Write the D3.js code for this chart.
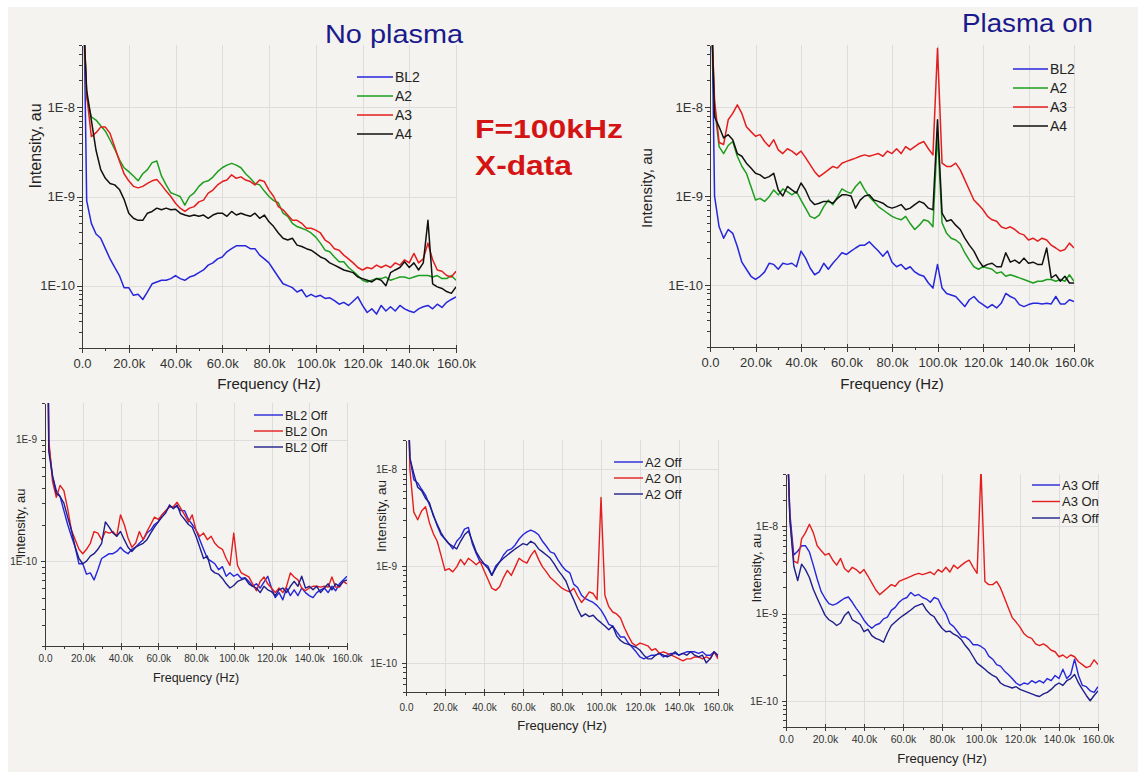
<!DOCTYPE html>
<meta charset="utf-8">
<style>
    body { margin: 0; background: #fff; }
    svg { display: block; font-family: "Liberation Sans", Arial, sans-serif; }
    .axis path, .axis line { fill: none; stroke: #3a3a3a; shape-rendering: crispEdges; }
    .axis text { fill: #333; }
    .grid line { stroke: #dddddd; shape-rendering: crispEdges; }
    .grid path { display: none; }
    .line { fill: none; stroke-linejoin: round; }
</style>
<svg class="chart"></svg>
<script src="https://d3js.org/d3.v7.min.js"></script>
<script>

    // frequency in kHz
    var freq = [1,
        2, 4, 6, 8, 10, 12, 14, 16, 18, 20,
        22, 24, 26, 28, 30, 32, 34, 36, 38, 40,
        42, 44, 46, 48, 50, 52, 54, 56, 58, 60,
        62, 64, 66, 68, 70, 72, 74, 76, 78, 80,
        82, 84, 86, 88, 90, 92, 94, 96, 98, 100,
        102, 104, 106, 108, 110, 112, 114, 116, 118, 120,
        122, 124, 126, 128, 130, 132, 134, 136, 138, 140,
        142, 144, 146, 148, 150, 152, 154, 156, 158, 160];

    // intensities in units of 1E-10 au
    var bl2Off = [600,
        9, 5, 3.8, 3.4, 2.6, 2.0, 1.6, 1.3, 0.95, 0.95,
        0.78, 0.8, 0.7, 0.85, 1.05, 1.1, 1.15, 1.15, 1.2, 1.3,
        1.2, 1.15, 1.25, 1.3, 1.4, 1.5, 1.7, 1.8, 2.0, 2.1,
        2.4, 2.6, 2.8, 2.8, 2.8, 2.6, 2.6, 2.2, 2.0, 1.8,
        1.5, 1.25, 1.05, 1.0, 0.95, 0.85, 0.9, 0.75, 0.8, 0.75,
        0.78, 0.72, 0.73, 0.68, 0.62, 0.65, 0.6, 0.67, 0.75, 0.6,
        0.5, 0.55, 0.48, 0.6, 0.52, 0.58, 0.52, 0.6, 0.55, 0.52,
        0.5, 0.55, 0.58, 0.6, 0.55, 0.62, 0.57, 0.65, 0.7, 0.75];

    var bl2On = [600,
        10, 4.5, 3.35, 4.2, 3.8, 2.7, 1.8, 1.5, 1.25, 1.15,
        1.25, 1.4, 1.75, 1.7, 1.5, 1.75, 1.7, 1.75, 1.6, 2.4,
        2.0, 1.55, 1.3, 1.4, 1.75, 1.5, 1.75, 2.0, 2.3, 2.2,
        2.4, 2.6, 2.8, 2.8, 3.05, 2.7, 2.4, 2.1, 2.4, 1.8,
        1.6, 1.7, 1.5, 1.6, 1.4, 1.3, 1.25, 1.05, 0.92, 1.7,
        0.92, 0.8, 0.77, 0.74, 0.65, 0.57, 0.68, 0.74, 0.65, 0.6,
        0.55, 0.6, 0.55, 0.62, 0.8, 0.74, 0.7, 0.6, 0.57, 0.6,
        0.62, 0.62, 0.61, 0.62, 0.61, 0.74, 0.61, 0.61, 0.68, 0.65];

    var bl2Off2 = [600,
        8, 5, 3.6, 3.4, 3.0, 2.3, 1.8, 1.3, 1.05, 0.95,
        1.0, 1.1, 1.15, 1.25, 1.4, 2.1, 1.9, 1.7, 1.6, 1.75,
        1.5, 1.3, 1.2, 1.3, 1.35, 1.4, 1.5, 1.7, 1.9, 2.1,
        2.3, 2.5, 2.9, 2.7, 2.9, 2.4, 2.2, 2.0, 1.9, 1.6,
        1.3, 1.05, 1.1, 0.85, 0.8, 0.78, 0.72, 0.65, 0.6, 0.63,
        0.68, 0.7, 0.72, 0.65, 0.62, 0.6, 0.55, 0.62, 0.58, 0.56,
        0.52, 0.58, 0.6, 0.55, 0.62, 0.68, 0.62, 0.75, 0.6, 0.62,
        0.58, 0.62, 0.55, 0.6, 0.65, 0.58, 0.65, 0.62, 0.68, 0.7];

    var a2Off = [600,
        130, 78, 72, 62, 54, 43, 34, 26, 21, 19,
        17, 15, 18, 20, 24, 25, 17, 13.5, 11, 10.5,
        10, 8, 10, 11, 13, 14.5, 15, 16.5, 19, 21,
        22.5, 23.5, 22.5, 21, 18, 16, 14, 13.5, 11.5, 10,
        9, 8.5, 6.5, 6, 5, 4.6, 4.4, 4.2, 3.9, 3.5,
        3.0, 2.5, 2.4, 2.1, 1.85, 1.85, 1.6, 1.45, 1.3, 1.15,
        1.1, 1.15, 1.2, 1.2, 1.25, 1.15, 1.2, 1.25, 1.25, 1.2,
        1.25, 1.3, 1.3, 1.3, 1.25, 1.3, 1.2, 1.2, 1.3, 1.15];

    var a2On = [600,
        100, 36, 30, 37, 41, 28, 21.6, 18, 12.8, 9,
        9.4, 8.7, 9.8, 11.7, 10.3, 12, 11.2, 10.3, 11.2, 9.0,
        7.3, 5.9, 5.6, 6.1, 7.6, 9.0, 8, 9.8, 12, 11.2,
        10.7, 12.8, 14.5, 11.7, 9.8, 8.7, 7.6, 7, 6.4, 5.9,
        5.6, 5.4, 5.9, 4.9, 4.2, 4.7, 5.4, 5.2, 4.5, 51,
        5.0, 3.8, 3.35, 3.2, 2.9, 2.3, 1.9, 1.6, 1.5, 1.6,
        1.55, 1.5, 1.35, 1.4, 1.25, 1.3, 1.25, 1.2, 1.15, 1.1,
        1.05, 1.1, 1.1, 1.15, 1.15, 1.1, 1.15, 1.1, 1.3, 1.1];

    var a2Off2 = [600,
        130, 90, 65, 60, 50, 45, 33, 27, 22, 19,
        17, 16, 15, 18, 21, 23, 18, 14, 12, 10.5,
        9.5, 8, 9.5, 11, 12, 13, 14, 15, 16, 17,
        16.5, 18, 17, 15, 14, 13, 12, 10.5, 9, 8,
        7, 5.5, 4.5, 3.6, 3.0, 3.2, 3.0, 3.1, 2.8, 2.6,
        2.4, 2.2, 2.4, 1.9, 1.7, 1.6, 1.55, 1.5, 1.45, 1.35,
        1.2, 1.1, 1.1, 1.2, 1.25, 1.2, 1.15, 1.2, 1.3, 1.2,
        1.25, 1.2, 1.3, 1.2, 1.15, 1.2, 1.0, 1.1, 1.3, 1.2];

    var a3Off = [600,
        140, 47, 52, 60, 60, 51, 36, 25, 18, 15,
        13, 12.5, 13, 14, 15, 15.5, 13.5, 11.5, 10, 8.4,
        7.4, 6.8, 7.4, 7.7, 8.7, 9.1, 10.9, 11.8, 13.5, 14.7,
        15.3, 17.5, 16, 16.6, 15.3, 14.7, 13.5, 15.3, 14.7, 11.8,
        10, 7.7, 7.1, 6.2, 5.4, 5.4, 5, 4.4, 4.4, 4.2,
        3.9, 3.25, 3.0, 2.6, 2.5, 2.2, 2.0, 1.8, 1.6, 1.5,
        1.6, 1.55, 1.7, 1.6, 1.7, 1.6, 1.8, 1.7, 1.95, 1.8,
        2.3, 1.8, 2.0, 3.0, 1.95, 1.5, 1.45, 1.3, 1.25, 1.45];

    var a3On = [600,
        120, 40, 38, 72, 85, 106, 85, 60, 53, 47,
        49, 41, 36, 43, 33, 30, 34, 32, 29, 32,
        27, 22.5, 18.8, 16.5, 18, 19.7, 21.5, 20.6, 23.4, 24.5,
        25.6, 26.7, 28, 29, 28, 29, 30, 28, 32, 30,
        34, 30, 36, 33, 36, 39, 41, 34, 29, 460,
        23.4, 21.5, 21.5, 23.4, 19.7, 15.2, 11.7, 9.0, 8, 7,
        5.9, 5.4, 5.2, 4.5, 4.3, 4.5, 4.2, 3.8, 3.65, 3.2,
        3.35, 3.1, 3.35, 3.2, 2.8, 2.6, 2.4, 2.5, 2.95, 2.6];

    var a3Off2 = [600,
        120, 35, 24, 37, 32, 26, 19, 15, 12, 9.6,
        8.5, 8.0, 7.3, 7.8, 9.5, 10.5, 8.5, 8.0, 7.5, 6.2,
        6.6, 5.6, 5.2, 5.0, 4.7, 6.0, 7.3, 8.0, 8.8, 9.5,
        10.2, 11, 12, 12.5, 13, 11, 9.8, 9.2, 7.8, 6.8,
        6.2, 6.3, 5.8, 5.5, 5.0, 4.3, 3.8, 3.2, 2.7, 2.5,
        2.3, 2.1, 1.95, 1.85, 1.6, 1.5, 1.45, 1.4, 1.45, 1.35,
        1.3, 1.25, 1.2, 1.15, 1.12, 1.2, 1.25, 1.35, 1.5, 1.6,
        1.5, 1.7, 1.8, 2.0, 1.6, 1.35, 1.15, 1.0, 1.15, 1.3];

    var a4Off = [600,
        155, 72, 33, 20, 16, 14, 13.5, 12, 9.3, 6.5,
        5.7, 5.4, 5.4, 6.5, 6.8, 7.4, 7.1, 7.4, 7.1, 7.2,
        6.5, 6.2, 6, 6.2, 6, 6.2, 5.7, 6.2, 6.5, 6.5,
        6, 6.8, 6.2, 6.5, 6.2, 6, 6.5, 5.7, 6.2, 5.2,
        4.6, 3.9, 3.4, 3.25, 3.4, 2.85, 2.75, 2.6, 2.5, 2.3,
        2.1, 2.0, 1.8, 1.7, 1.6, 1.5, 1.45, 1.4, 1.25, 1.2,
        1.15, 1.1, 1.2, 1.15, 1.0, 1.4, 1.5, 1.6, 1.85, 1.6,
        1.8, 1.5, 1.8, 5.4, 1.05, 0.97, 0.93, 0.86, 0.82, 0.97];

    var a4On = [600,
        78, 60, 45, 49, 43, 30, 28, 23.4, 20.6, 18,
        17.3, 15.8, 16.5, 18, 11.7, 10, 12.8, 11.7, 10.8, 14,
        11.7, 9.0, 8, 8.3, 8.7, 8.7, 8.3, 9.4, 10.3, 10.3,
        10, 7.3, 9.0, 10, 10.3, 9, 8.7, 8.3, 7.6, 7.3,
        7.6, 8, 7, 7.3, 8, 8.7, 8.3, 7.3, 7, 72,
        6.4, 5.2, 5.4, 4.7, 4.2, 3.35, 2.8, 2.4, 1.9, 1.6,
        1.7, 1.75, 1.6, 1.6, 2.3, 1.8, 1.9, 1.75, 2.0, 1.75,
        1.8, 1.7, 1.7, 2.6, 1.2, 1.3, 1.1, 1.25, 1.05, 1.05];

    var xTicks = [0, 20, 40, 60, 80, 100, 120, 140, 160];
    var xMinor = [10, 30, 50, 70, 90, 110, 130, 150];
    var decades = [1, 10, 100];   // 1E-10, 1E-9, 1E-8

    var blue = "#2626dc", navy = "#1e1e8c", green = "#1e9e1e", red = "#e41e1e", black = "#111";

    var panels = [
        {x0: 82, x1: 456, y0: 45, y1: 348, yDomain: [0.2, 500], lw: 1.5,
            series: [["BL2", bl2Off, blue], ["A2", a2Off, green], ["A3", a3Off, red], ["A4", a4Off, black]],
            tick: 13, tickPadX: 6, tickPadY: 2, tickLen: 5, legendFont: 14,
            legend: {x1: 357, x2: 393, y: 77, dy: 19},
            xTitle: {x: 269, y: 389, size: 15}, yTitle: {x: 35, y: 146, size: 16}},
        {x0: 710, x1: 1074, y0: 45, y1: 347, yDomain: [0.2, 500], lw: 1.5,
            series: [["BL2", bl2On, blue], ["A2", a2On, green], ["A3", a3On, red], ["A4", a4On, black]],
            tick: 13, tickPadX: 6, tickPadY: 2, tickLen: 5, legendFont: 14,
            legend: {x1: 1013, x2: 1048, y: 69, dy: 19},
            xTitle: {x: 892, y: 389, size: 15}, yTitle: {x: 647, y: 188, size: 15}},
        {x0: 45, x1: 347, y0: 403, y1: 646, yDomain: [0.2, 20], lw: 1.4,
            series: [["BL2 Off", bl2Off, blue], ["BL2 On", bl2On, red], ["BL2 Off", bl2Off2, navy]],
            tick: 10, tickPadX: 5, tickPadY: 4, tickLen: 4, legendFont: 12.5,
            legend: {x1: 254, x2: 283, y: 415, dy: 16},
            xTitle: {x: 196, y: 682, size: 12.5}, yTitle: {x: 20, y: 523, size: 13}},
        {x0: 406, x1: 718, y0: 440, y1: 692, yDomain: [0.5, 200], lw: 1.4,
            series: [["A2 Off", a2Off, blue], ["A2 On", a2On, red], ["A2 Off", a2Off2, navy]],
            tick: 10, tickPadX: 8, tickPadY: 5, tickLen: 4, legendFont: 13,
            legend: {x1: 614, x2: 643, y: 462, dy: 16},
            xTitle: {x: 562, y: 730, size: 13}, yTitle: {x: 381, y: 516, size: 13.5}},
        {x0: 786, x1: 1098, y0: 474, y1: 727, yDomain: [0.5, 400], lw: 1.4,
            series: [["A3 Off", a3Off, blue], ["A3 On", a3On, red], ["A3 Off", a3Off2, navy]],
            tick: 10.5, tickPadX: 5, tickPadY: 4, tickLen: 4, legendFont: 13,
            legend: {x1: 1032, x2: 1060, y: 485, dy: 16.5},
            xTitle: {x: 942, y: 763, size: 13}, yTitle: {x: 756, y: 568, size: 13}}
    ];

    var svg = d3.select(".chart")
        .attr("width", 1138)
        .attr("height", 772);

    svg.append("rect")
        .attr("x", 8).attr("y", 7)
        .attr("width", 1130).attr("height", 765)
        .attr("fill", "#f4f3ef");

    function minorLog(domain) {
        var out = [];
        [0.1, 1, 10, 100].forEach(function (d) {
            for (var k = 2; k <= 9; k++) {
                var v = k * d;
                if (v >= domain[0] && v <= domain[1]) out.push(v);
            }
        });
        return out;
    }

    panels.forEach(function (p, pi) {
        var w = p.x1 - p.x0, h = p.y1 - p.y0;
        var x = d3.scaleLinear().domain([0, 160]).range([0, w]);
        var y = d3.scaleLog().domain(p.yDomain).range([h, 0]);
        var g = svg.append("g").attr("transform", "translate(" + p.x0 + "," + p.y0 + ")");
        var shown = decades.filter(function (d) { return d >= p.yDomain[0] && d <= p.yDomain[1]; });

        // grid
        g.append("g").attr("class", "grid")
            .call(d3.axisBottom(x).tickValues(xTicks.slice(1)).tickSize(h).tickFormat(""));
        g.append("g").attr("class", "grid")
            .call(d3.axisRight(y).tickValues(shown).tickSize(w).tickFormat(""));

        // data lines
        g.append("clipPath").attr("id", "clip" + pi)
            .append("rect").attr("width", w).attr("height", h);

        var line = d3.line()
            .x(function (d) { return x(d[0]); })
            .y(function (d) { return y(d[1]); });

        p.series.forEach(function (s) {
            g.append("path")
                .attr("class", "line")
                .attr("clip-path", "url(#clip" + pi + ")")
                .attr("stroke", s[2])
                .attr("stroke-width", p.lw)
                .attr("d", line(freq.map(function (f, i) { return [f, s[1][i]]; })));
        });

        // axes
        var xAxis = g.append("g").attr("class", "axis")
            .attr("transform", "translate(0," + h + ")")
            .call(d3.axisBottom(x).tickValues(xTicks).tickSize(p.tickLen).tickSizeOuter(0)
                .tickPadding(p.tickPadX)
                .tickFormat(function (d) { return d === 0 ? "0.0" : d.toFixed(1) + "k"; }));
        xAxis.selectAll("text").style("font-size", p.tick + "px");
        xAxis.selectAll(".tick line").attr("y1", -3);
        g.append("g").attr("class", "axis")
            .attr("transform", "translate(0," + h + ")")
            .call(d3.axisBottom(x).tickValues(xMinor).tickSize(3).tickFormat(""))
            .select(".domain").remove();

        var yAxis = g.append("g").attr("class", "axis")
            .call(d3.axisLeft(y).tickValues(shown).tickSize(p.tickLen).tickSizeOuter(0)
                .tickPadding(p.tickPadY)
                .tickFormat(function (d) { return "1E" + (Math.round(Math.log10(d)) - 10); }));
        yAxis.selectAll("text").style("font-size", p.tick + "px");
        g.append("g").attr("class", "axis")
            .call(d3.axisLeft(y).tickValues(minorLog(p.yDomain)).tickSize(3).tickFormat(""))
            .select(".domain").remove();

        // titles
        svg.append("text")
            .attr("x", p.xTitle.x).attr("y", p.xTitle.y)
            .attr("text-anchor", "middle")
            .style("font-size", p.xTitle.size + "px")
            .attr("fill", "#222")
            .text("Frequency (Hz)");
        svg.append("text")
            .attr("transform", "translate(" + p.yTitle.x + "," + p.yTitle.y + ") rotate(-90)")
            .attr("text-anchor", "middle")
            .attr("dy", "0.35em")
            .style("font-size", p.yTitle.size + "px")
            .attr("fill", "#222")
            .text("Intensity, au");

        // legend
        var lg = svg.append("g");
        p.series.forEach(function (s, i) {
            var yy = p.legend.y + i * p.legend.dy;
            lg.append("line")
                .attr("x1", p.legend.x1).attr("x2", p.legend.x2)
                .attr("y1", yy).attr("y2", yy)
                .attr("stroke", s[2]).attr("stroke-width", p.lw);
            lg.append("text")
                .attr("x", p.legend.x2 + 2).attr("y", yy)
                .attr("dy", "0.36em")
                .style("font-size", p.legendFont + "px")
                .attr("fill", "#222")
                .text(s[0]);
        });
    });

    // headings
    svg.append("text").attr("x", 325).attr("y", 43)
        .attr("textLength", 138).attr("lengthAdjust", "spacingAndGlyphs")
        .style("font-size", "26px").attr("fill", "#1a1a8c").text("No plasma");
    svg.append("text").attr("x", 962).attr("y", 32)
        .attr("textLength", 131).attr("lengthAdjust", "spacingAndGlyphs")
        .style("font-size", "25px").attr("fill", "#1a1a8c").text("Plasma on");
    svg.append("text").attr("x", 475).attr("y", 138)
        .attr("textLength", 148).attr("lengthAdjust", "spacingAndGlyphs")
        .style("font-size", "26px").style("font-weight", "bold").attr("fill", "#d41414").text("F=100kHz");
    svg.append("text").attr("x", 475).attr("y", 175)
        .attr("textLength", 97).attr("lengthAdjust", "spacingAndGlyphs")
        .style("font-size", "27px").style("font-weight", "bold").attr("fill", "#d41414").text("X-data");

</script>
